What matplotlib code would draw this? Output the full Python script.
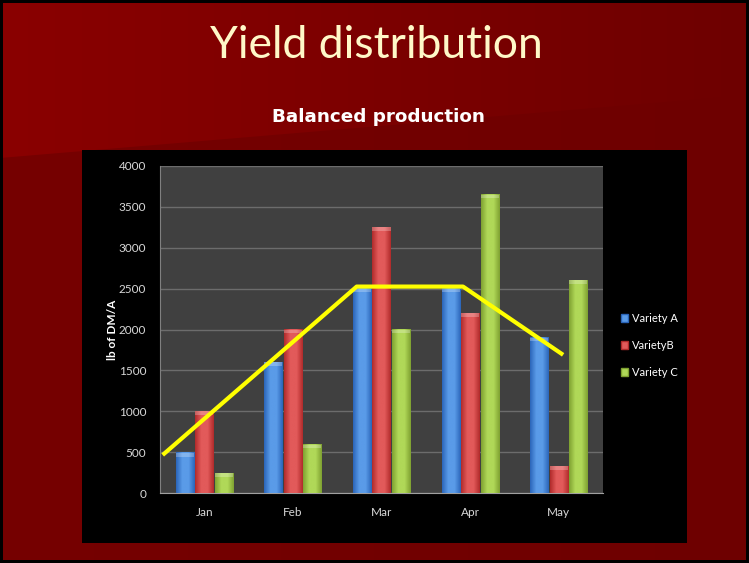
import numpy as np
import matplotlib
matplotlib.use("Agg")
import matplotlib.pyplot as plt
from matplotlib.patches import Rectangle, Polygon

months = ["Jan", "Feb", "Mar", "Apr", "May"]
variety_a = [490, 1600, 2500, 2500, 1900]
variety_b = [1000, 2000, 3250, 2200, 330]
variety_c = [240, 590, 2000, 3650, 2600]
series_names = ["Variety A", "VarietyB", "Variety C"]
trend_x = [-0.47, 1.72, 2.92, 4.05]
trend_y = [465, 2525, 2525, 1690]
yticks = [0, 500, 1000, 1500, 2000, 2500, 3000, 3500, 4000]

W, H = 749, 563
fig = plt.figure(figsize=(W / 100, H / 100), dpi=100)
fig.patch.set_facecolor("black")

# slide background
bg = fig.add_axes([0, 0, 1, 1])
bg.set_xlim(0, W)
bg.set_ylim(H, 0)
bg.axis("off")
grad = np.linspace(0, 1, 256)[None, :]
cmap_top = matplotlib.colors.LinearSegmentedColormap.from_list("bg", ["#8a0000", "#6e0000"])
cmap_low = matplotlib.colors.LinearSegmentedColormap.from_list("bg2", ["#760000", "#6e0000"])
bg.imshow(grad, aspect="auto", cmap=cmap_top, extent=[0, W, H, 0], zorder=0)
im_low = bg.imshow(grad, aspect="auto", cmap=cmap_low, extent=[0, W, H, 0], zorder=1)
clip = Polygon([[0, 158], [W, 95], [W, H], [0, H]], closed=True, transform=bg.transData)
im_low.set_clip_path(clip)
# black frame
for r in [(0, 0, W, 3), (0, H - 3, W, 3), (0, 0, 3, H), (W - 3, 0, 3, H)]:
    bg.add_patch(Rectangle(r[:2], r[2], r[3], facecolor="black", edgecolor="none", zorder=2))
# chart area box
bg.add_patch(Rectangle((82, 150), 605, 393, facecolor="black", edgecolor="none", zorder=2))
bg.set_xlim(0, W)
bg.set_ylim(H, 0)

fig.text(376 / W, 1 - 46 / H, "Yield distribution", ha="center", va="center",
         fontsize=32, color="#fff8c8", family=["Lato", "DejaVu Sans"], fontweight="normal")
fig.text(378 / W, 1 - 117 / H, "Balanced production", ha="center", va="center",
         fontsize=13.2, color="white", fontweight="bold", family=["DejaVu Sans"])

ax = fig.add_axes([160 / W, (H - 493) / H, 443 / W, 327 / H])
ax.set_facecolor("#404040")
ax.set_xlim(-0.5, 4.5)
ax.set_ylim(0, 4000)
ax.set_yticks(yticks)
ax.set_yticklabels([str(v) for v in yticks], family=["Lato", "DejaVu Sans"])
ax.set_xticks(range(len(months)))
ax.set_xticklabels(months, family=["Lato", "DejaVu Sans"])
ax.tick_params(axis="both", colors="#d8d8d8", labelsize=8.5, length=0)
ax.tick_params(axis="x", pad=10)
ax.tick_params(axis="y", pad=10)
ax.grid(axis="y", color="#6c6c6c", linewidth=1)
ax.set_axisbelow(True)
for s in ["top", "right"]:
    ax.spines[s].set_visible(False)
ax.spines["left"].set_color("#808080")
ax.spines["bottom"].set_color("#a0a0a0")
ax.set_ylabel("lb of DM/A", color="white", fontsize=8.5, fontweight="bold",
              family=["Lato", "DejaVu Sans"])
ax.yaxis.set_label_coords((118 - 160) / 443, 0.5)

colors = [("#2a64b8", "#5a9be8"), ("#b02a2a", "#e25a5a"), ("#7ea030", "#b0d858")]
offsets = [-0.22, 0.0, 0.22]
bw = 0.205
x = np.arange(len(months))
for vals, off, (dark, light) in zip([variety_a, variety_b, variety_c], offsets, colors):
    bars = ax.bar(x + off, vals, width=bw, color=light, zorder=2)
    cm = matplotlib.colors.LinearSegmentedColormap.from_list("c", [dark, light, light, dark])
    for b in bars:
        x0, w, h = b.get_x(), b.get_width(), b.get_height()
        ax.imshow(grad, aspect="auto", cmap=cm, extent=[x0, x0 + w, 0, h], zorder=3)
        ax.add_patch(Rectangle((x0, h - 45), w, 45, facecolor="white", alpha=0.25,
                               edgecolor="none", zorder=4))
ax.set_xlim(-0.5, 4.5)
ax.set_ylim(0, 4000)

ax.plot(trend_x, trend_y, color="#ffff00", linewidth=3, zorder=6, clip_on=False,
        solid_capstyle="butt")

handles = [Rectangle((0, 0), 1, 1, facecolor=c[1], edgecolor=c[0]) for c in colors]
leg = fig.legend(handles, series_names, loc="upper left",
                 bbox_to_anchor=(611 / W, 1 - 303 / H), frameon=False,
                 prop={"family": ["Lato", "DejaVu Sans"], "size": 8},
                 labelcolor="white", handlelength=0.6, handleheight=0.7,
                 handletextpad=0.4, labelspacing=1.45)

fig.savefig("out.png", dpi=100, facecolor=fig.get_facecolor())
